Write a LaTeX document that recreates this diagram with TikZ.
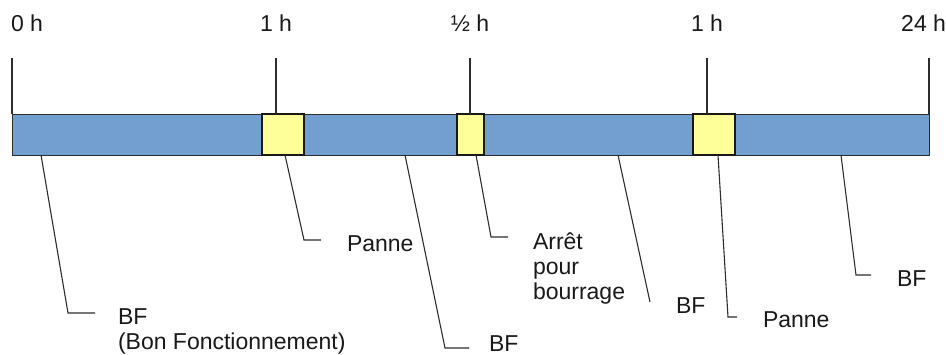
\documentclass[tikz,border=0pt]{standalone}
\usepackage{fontspec}
\setmainfont{Liberation Sans}
\definecolor{barblue}{RGB}{114,159,207}
\definecolor{stopyellow}{RGB}{255,255,153}
\definecolor{ink}{RGB}{45,45,45}
\begin{document}
\begin{tikzpicture}[x=1pt,y=-1pt,
  txt/.style={inner sep=0pt, outer sep=0pt, font=\fontsize{23}{25}\selectfont, text=black!90},
  bar/.style={draw=ink, line width=0.9pt, fill=barblue, inner sep=0pt, outer sep=0pt,
    anchor=north west, minimum height=41pt},
  stopbox/.style={draw=black!90, line width=1.4pt, fill=stopyellow, inner sep=0pt, outer sep=0pt,
    anchor=north west, minimum height=41pt},
  tick/.style={draw=ink, line width=1.1pt},
  leader/.style={draw=ink, line width=1.1pt}]
\useasboundingbox (0,0) rectangle (946,355);

% time bar and stoppages
\node[bar, minimum width=917pt] (bar) at (12,114) {};
\node[stopbox, minimum width=42pt] (p1) at (262,114) {};
\node[stopbox, minimum width=27pt] (p2) at (457,114) {};
\node[stopbox, minimum width=42pt] (p3) at (693,114) {};

% time marks
\node[txt, anchor=base west] (h0) at (11,32) {0 h};
\node[txt, anchor=base] (h1) at (276,32) {1 h};
\node[txt, anchor=base] (h2) at (470,32) {½ h};
\node[txt, anchor=base] (h3) at (707,32) {1 h};
\node[txt, anchor=base east] (h4) at (946,32) {24 h};

\coordinate (t0) at (12,58);
\coordinate (t1) at (276,58);
\coordinate (t2) at (470,58);
\coordinate (t3) at (707,58);
\coordinate (t4) at (929,58);
\foreach \t in {t0,t1,t2,t3,t4}
  \draw[tick] (\t) -- (\t |- bar.north);

% leader lines from the bar to the state labels
\coordinate (a1) at (41,155);  \coordinate (b1) at (68,313);  \coordinate (c1) at (95,313);
\coordinate (a2) at (285,155); \coordinate (b2) at (304,240); \coordinate (c2) at (321,240);
\coordinate (a3) at (405,155); \coordinate (b3) at (445,348); \coordinate (c3) at (469,348);
\coordinate (a4) at (476,155); \coordinate (b4) at (491,237); \coordinate (c4) at (508,237);
\coordinate (a5) at (618,155); \coordinate (b5) at (650,302);
\coordinate (a6) at (718,155); \coordinate (b6) at (728,317); \coordinate (c6) at (737,317);
\coordinate (a7) at (841,155); \coordinate (b7) at (856,275); \coordinate (c7) at (871,275);

\draw[leader] (a1) -- (b1) -- (c1);
\draw[leader] (a2) -- (b2) -- (c2);
\draw[leader] (a3) -- (b3) -- (c3);
\draw[leader] (a4) -- (b4) -- (c4);
\draw[leader] (a5) -- (b5);
\draw[leader] (a6) -- (b6) -- (c6);
\draw[leader] (a7) -- (b7) -- (c7);

% state labels
\node[txt, anchor=north west, align=left] (s1) at (118,308.5) {BF\\(Bon Fonctionnement)};
\node[txt, anchor=base west] (s2) at (347,252) {Panne};
\node[txt, anchor=base west] (s3) at (489,352) {BF};
\node[txt, anchor=north west, align=left] (s4) at (533,233) {Arrêt\\pour\\bourrage};
\node[txt, anchor=base west] (s5) at (676,314) {BF};
\node[txt, anchor=base west] (s6) at (763,328) {Panne};
\node[txt, anchor=base west] (s7) at (897,287) {BF};
\end{tikzpicture}
\end{document}
